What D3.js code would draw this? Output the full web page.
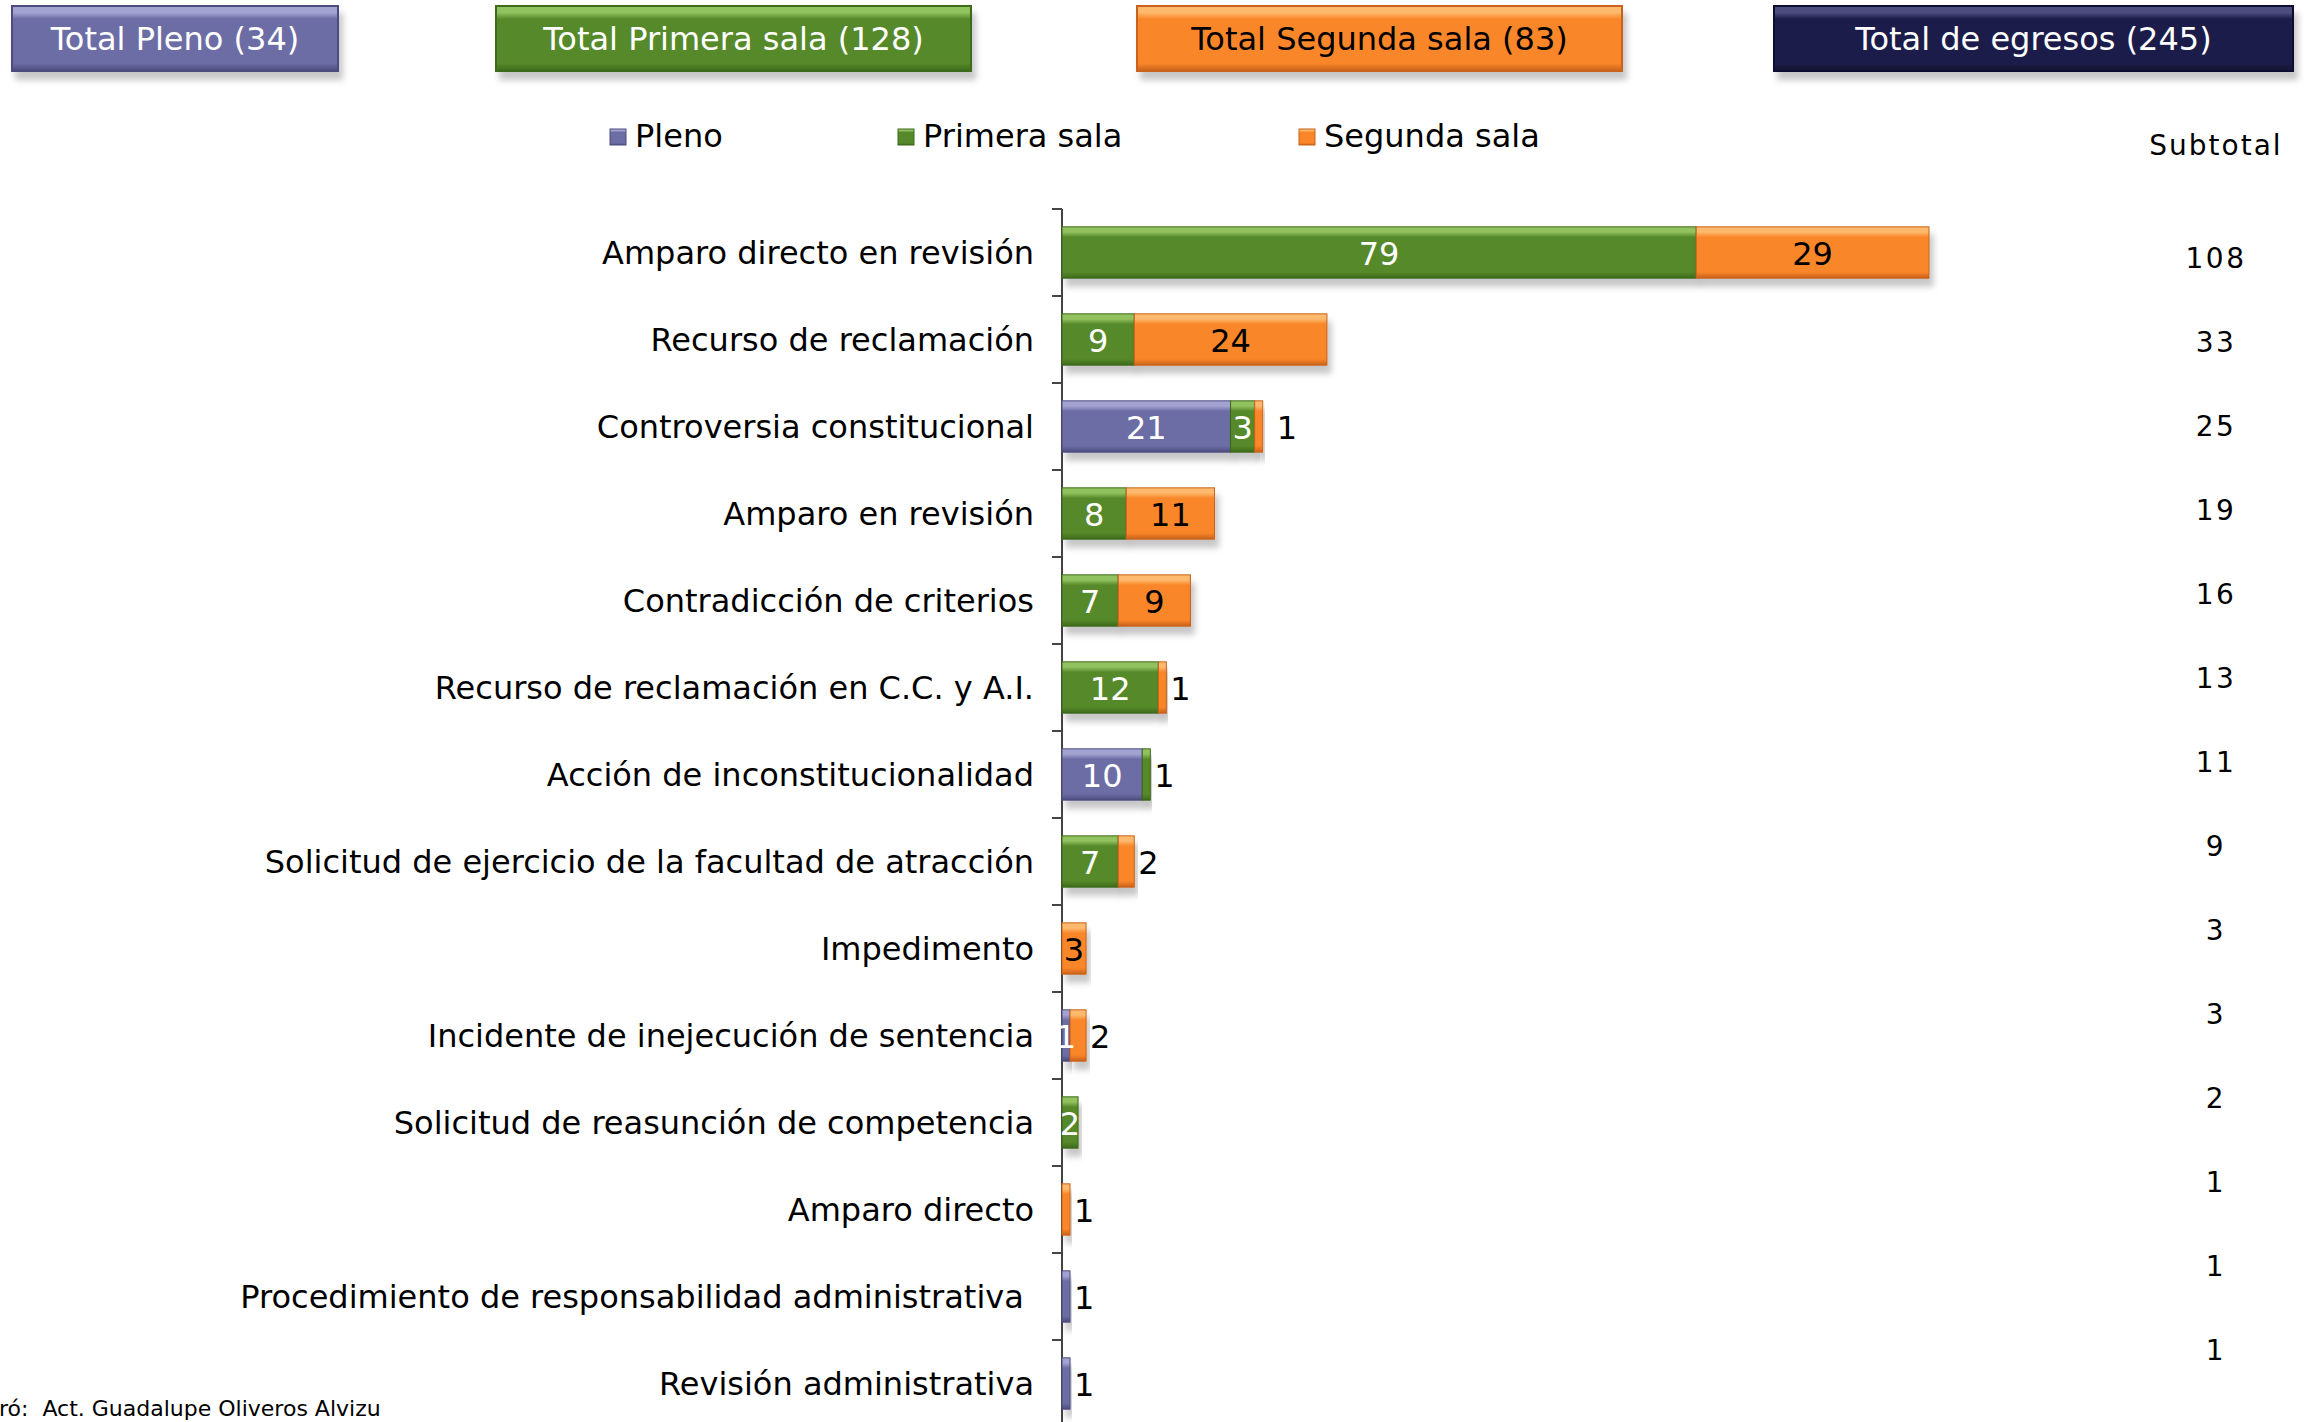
<!DOCTYPE html>
<html>
<head>
<meta charset="utf-8">
<script src="https://cdn.jsdelivr.net/npm/d3@7"></script>
<style>
  html, body { margin: 0; padding: 0; background: #fff; }
  svg { display: block; font-family: "DejaVu Sans", Verdana, sans-serif; }
  text { white-space: pre; }
</style>
</head>
<body>
<svg id="chart" width="2312" height="1422"></svg>
<script>
// data
const categories = [
  "Amparo directo en revisión",
  "Recurso de reclamación",
  "Controversia constitucional",
  "Amparo en revisión",
  "Contradicción de criterios",
  "Recurso de reclamación en C.C. y A.I.",
  "Acción de inconstitucionalidad",
  "Solicitud de ejercicio de la facultad de atracción",
  "Impedimento",
  "Incidente de inejecución de sentencia",
  "Solicitud de reasunción de competencia",
  "Amparo directo",
  "Procedimiento de responsabilidad administrativa ",
  "Revisión administrativa"
];
const pleno   = [0, 0, 21, 0, 0, 0, 10, 0, 0, 1, 0, 0, 1, 1];
const primera = [79, 9, 3, 8, 7, 12, 1, 7, 0, 0, 2, 0, 0, 0];
const segunda = [29, 24, 1, 11, 9, 1, 0, 2, 3, 2, 0, 1, 0, 0];
const seriesNames = ["Pleno", "Primera sala", "Segunda sala"];

// labels that Excel put outside the bar end
const outsideLabels = [
  [2, "Segunda sala"], [5, "Segunda sala"], [6, "Primera sala"], [7, "Segunda sala"],
  [9, "Segunda sala"], [11, "Segunda sala"], [12, "Pleno"], [13, "Pleno"]
];

const colors = {
  "Pleno":        {main: "#6d6da6", light: "#a3a3d2", dark: "#4c4c7e", text: "#fff"},
  "Primera sala": {main: "#57892a", light: "#92c25f", dark: "#3d6a1a", text: "#fff"},
  "Segunda sala": {main: "#fa8629", light: "#fdba6e", dark: "#c8621a", text: "#000"},
  "Total":        {main: "#1d1d4b", light: "#4d4d80", dark: "#101030", text: "#fff"}
};

const rows = categories.map((c, i) => ({
  cat: c, "Pleno": pleno[i], "Primera sala": primera[i], "Segunda sala": segunda[i]
}));
const totals = rows.map(r => r["Pleno"] + r["Primera sala"] + r["Segunda sala"]);

const svg = d3.select("#chart");
const defs = svg.append("defs");

// bevel look with gradients
Object.entries(colors).forEach(([k, c], i) => {
  const g = defs.append("linearGradient").attr("id", "grad" + i)
    .attr("x1", 0).attr("y1", 0).attr("x2", 0).attr("y2", 1);
  g.append("stop").attr("offset", "0%").attr("stop-color", c.light);
  g.append("stop").attr("offset", "10%").attr("stop-color", c.light);
  g.append("stop").attr("offset", "20%").attr("stop-color", c.main);
  g.append("stop").attr("offset", "88%").attr("stop-color", c.main);
  g.append("stop").attr("offset", "100%").attr("stop-color", c.dark);
});
const gradId = name => "url(#grad" + Object.keys(colors).indexOf(name) + ")";

const shadow = defs.append("filter").attr("id", "shadow")
  .attr("x", "-10%").attr("y", "-20%").attr("width", "130%").attr("height", "160%");
shadow.append("feDropShadow").attr("dx", 4).attr("dy", 8).attr("stdDeviation", 3)
  .attr("flood-color", "#000").attr("flood-opacity", 0.22);

// top boxes with totals
const boxes = [
  {label: `Total Pleno (${d3.sum(pleno)})`, key: "Pleno", x0: 12, x1: 338},
  {label: `Total Primera sala (${d3.sum(primera)})`, key: "Primera sala", x0: 496, x1: 971},
  {label: `Total Segunda sala (${d3.sum(segunda)})`, key: "Segunda sala", x0: 1137, x1: 1622},
  {label: `Total de egresos (${d3.sum(totals)})`, key: "Total", x0: 1774, x1: 2293}
];
const boxG = svg.append("g").selectAll("g").data(boxes).join("g");
boxG.append("rect")
  .attr("x", d => d.x0).attr("y", 6)
  .attr("width", d => d.x1 - d.x0).attr("height", 65)
  .attr("fill", d => gradId(d.key))
  .attr("stroke", d => colors[d.key].dark).attr("stroke-width", 2)
  .attr("filter", "url(#shadow)");
boxG.append("text")
  .attr("x", d => (d.x0 + d.x1) / 2).attr("y", 50)
  .attr("text-anchor", "middle")
  .attr("font-size", 32)
  .attr("fill", d => colors[d.key].text)
  .text(d => d.label);

// legend
const legendX = [610, 898, 1299];
const leg = svg.append("g").selectAll("g").data(seriesNames).join("g")
  .attr("transform", (d, i) => `translate(${legendX[i]},129)`);
leg.append("rect").attr("width", 16).attr("height", 16)
  .attr("fill", d => gradId(d)).attr("stroke", d => colors[d].dark).attr("stroke-width", 1);
leg.append("text").attr("x", 25).attr("y", 18).attr("font-size", 32).text(d => d);

// scales
const x = d3.scaleLinear().domain([0, d3.max(totals)]).range([1062, 1929]);
const y = d3.scaleBand().domain(categories)
  .range([209, 209 + 87 * categories.length])
  .paddingInner(0.41).paddingOuter(0.205);

// axis line and ticks at band edges
const axis = svg.append("g").attr("stroke", "#444").attr("stroke-width", 2);
axis.append("line").attr("x1", x(0)).attr("x2", x(0))
  .attr("y1", y.range()[0]).attr("y2", y.range()[1]);
axis.selectAll("line.tick").data(categories.concat([null])).join("line")
  .attr("class", "tick")
  .attr("x1", x(0) - 10).attr("x2", x(0))
  .attr("y1", (d, i) => y.range()[0] + i * y.step())
  .attr("y2", (d, i) => y.range()[0] + i * y.step());

// category labels
svg.append("g").selectAll("text").data(categories).join("text")
  .attr("x", 1034)
  .attr("y", d => y(d) + y.bandwidth() / 2 + 11)
  .attr("text-anchor", "end")
  .attr("font-size", 32)
  .text(d => d);

// stacked bars
const stack = d3.stack().keys(seriesNames)(rows);
const layer = svg.append("g").selectAll("g").data(stack).join("g")
  .attr("fill", s => gradId(s.key));
layer.selectAll("rect").data(s => s.filter(d => d[1] > d[0]).map(d => ({d, key: s.key})))
  .join("rect")
  .attr("x", o => x(o.d[0]))
  .attr("y", o => y(o.d.data.cat))
  .attr("width", o => x(o.d[1]) - x(o.d[0]))
  .attr("height", y.bandwidth())
  .attr("stroke", o => colors[o.key].dark)
  .attr("stroke-width", 1)
  .attr("filter", "url(#shadow)");

// value labels
const isOutside = (i, key) => outsideLabels.some(o => o[0] === i && o[1] === key);
const labels = [];
stack.forEach(s => s.forEach((d, i) => {
  if (d[1] > d[0]) labels.push({i, key: s.key, d, out: isOutside(i, s.key)});
}));
svg.append("g").selectAll("text").data(labels).join("text")
  .attr("x", o => o.out ? x(totals[o.i]) + (o.i === 2 ? 14 : 4) : (x(o.d[0]) + x(o.d[1])) / 2)
  .attr("y", o => y(categories[o.i]) + y.bandwidth() / 2 + 12)
  .attr("text-anchor", o => o.out ? "start" : "middle")
  .attr("font-size", 32)
  .attr("fill", o => o.out ? "#000" : colors[o.key].text)
  .text(o => o.d[1] - o.d[0]);

// subtotal column
const ySub = d3.scaleBand().domain(categories).range([215.7, 215.7 + 84 * categories.length]);
svg.append("text").attr("x", 2216).attr("y", 155)
  .attr("text-anchor", "middle").attr("font-size", 28).attr("letter-spacing", 2)
  .text("Subtotal");
svg.append("g").selectAll("text").data(categories).join("text")
  .attr("x", 2216)
  .attr("y", d => ySub(d) + ySub.bandwidth() / 2 + 10)
  .attr("text-anchor", "middle").attr("font-size", 28).attr("letter-spacing", 2.5)
  .text((d, i) => totals[i]);

// footer (the reference crops the start of "Elaboró:")
svg.append("text").attr("x", -1).attr("y", 1416)
  .attr("font-size", 22)
  .text("ró:  Act. Guadalupe Oliveros Alvizu");
</script>
</body>
</html>
